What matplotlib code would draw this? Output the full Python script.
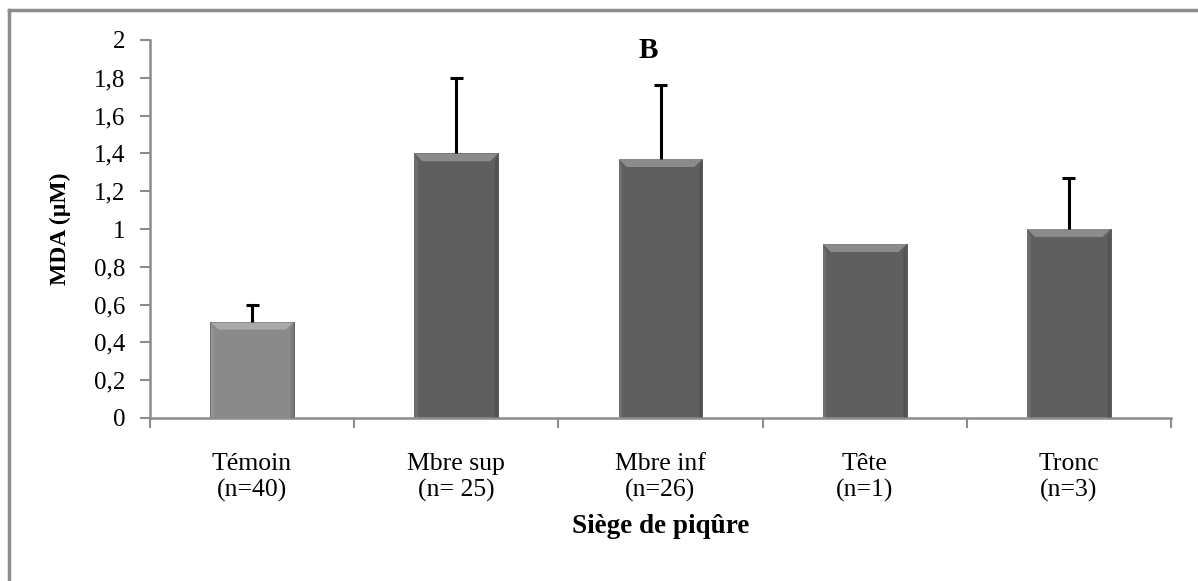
import matplotlib.pyplot as plt
from matplotlib.patches import Polygon
import numpy as np

# Données : MDA selon le siège de piqûre
categories = ['Témoin\n(n=40)', 'Mbre sup\n(n= 25)', 'Mbre inf\n(n=26)', 'Tête\n(n=1)', 'Tronc\n(n=3)']
mda = [0.51, 1.40, 1.37, 0.92, 1.00]
erreur = [0.09, 0.40, 0.39, 0.0, 0.27]
couleurs = ['#8a8a8a', '#5f5f5f', '#5f5f5f', '#5f5f5f', '#5f5f5f']
yticks = [0, 0.2, 0.4, 0.6, 0.8, 1, 1.2, 1.4, 1.6, 1.8, 2]
ytick_labels = ['0', '0,2', '0,4', '0,6', '0,8', '1', '1,2', '1,4', '1,6', '1,8', '2']

plt.rcParams['font.family'] = ['Liberation Serif', 'DejaVu Serif']

fig = plt.figure(figsize=(11.98, 5.81), dpi=100)
ax = fig.add_axes([150/1198, 163/581, 1021/1198, 378/581])

x = np.arange(len(categories))
largeur = 0.41
barres = ax.bar(x, mda, width=largeur, color=couleurs, edgecolor='#505050', linewidth=0.6, zorder=2)

# effet de biseau sur les barres
bx, by = 0.04, 0.042
for b in barres:
    x0, x1, h = b.get_x(), b.get_x() + b.get_width(), b.get_height()
    haut = Polygon([(x0, h), (x1, h), (x1 - bx, h - by), (x0 + bx, h - by)],
                   facecolor='white', alpha=0.28, linewidth=0, zorder=3)
    gauche = Polygon([(x0, 0), (x0, h), (x0 + bx * 0.4, h - by), (x0 + bx * 0.4, 0)],
                     facecolor='white', alpha=0.10, linewidth=0, zorder=3)
    droite = Polygon([(x1, 0), (x1, h), (x1 - bx * 0.4, h - by), (x1 - bx * 0.4, 0)],
                     facecolor='black', alpha=0.12, linewidth=0, zorder=3)
    for p in (haut, gauche, droite):
        ax.add_patch(p)

# barres d'erreur (seulement vers le haut)
demi_cap = 0.032
for xi, m, e in zip(x, mda, erreur):
    if e > 0:
        ax.vlines(xi, m, m + e, color='black', linewidth=2.2, zorder=4)
        ax.hlines(m + e, xi - demi_cap, xi + demi_cap, color='black', linewidth=2.2, zorder=4)

ax.set_xlim(-0.5, len(categories) - 0.5)
ax.set_ylim(0, 2)
ax.set_yticks(yticks)
ax.set_yticklabels(ytick_labels, fontsize=18)
ax.set_xticks(x)
ax.set_xticklabels(categories, fontsize=18.5, linespacing=1.25)
ax.set_xticks(np.arange(-0.5, len(categories), 1), minor=True)
ax.tick_params(axis='x', which='major', length=0, pad=25)
ax.tick_params(axis='x', which='minor', length=7, width=1.5, color='#8c8c8c', direction='out')
ax.tick_params(axis='y', length=7, width=1.5, color='#8c8c8c', direction='out', pad=11)

for s in ['top', 'right']:
    ax.spines[s].set_visible(False)
for s in ['left', 'bottom']:
    ax.spines[s].set_color('#8c8c8c')
    ax.spines[s].set_linewidth(1.8)

ax.set_ylabel('MDA (µM)', fontsize=17, fontweight='bold')
ax.yaxis.set_label_coords(-79/1021, 0.5)
ax.set_xlabel('Siège de piqûre', fontsize=19.5, fontweight='bold')
ax.xaxis.set_label_coords(0.5, -96/378)
ax.text(0.488, 0.952, 'B', transform=ax.transAxes, ha='center', va='baseline',
        fontsize=21, fontweight='bold')

# cadre gris (côtés gauche et haut)
fig.add_artist(plt.Line2D([9/1198, 9/1198], [0, 1 - 10/581], color='#8c8c8c', linewidth=2.5,
                          transform=fig.transFigure))
fig.add_artist(plt.Line2D([9/1198, 1], [1 - 10/581, 1 - 10/581], color='#8c8c8c', linewidth=2.5,
                          transform=fig.transFigure))

fig.savefig('out.png', dpi=100)
